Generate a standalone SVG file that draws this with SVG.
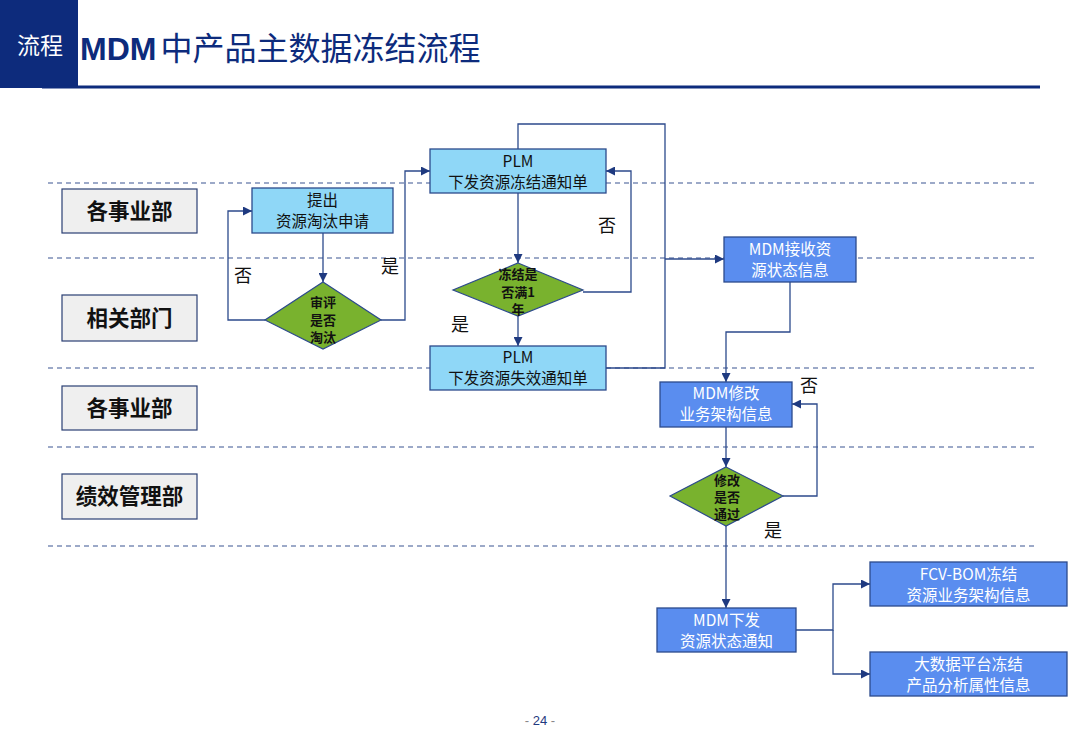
<svg xmlns="http://www.w3.org/2000/svg" width="1080" height="748" viewBox="0 0 1080 748">
<style>
.cjk{font-family:"Noto Sans CJK SC","Noto Sans",sans-serif}
.lane rect{fill:#efefef;stroke:#2a3f73;stroke-width:1.2}
.lane text{font-size:21.5px;font-weight:bold;fill:#111;text-anchor:middle}
.lb rect{fill:#8fd7f7;stroke:#2c4a8c;stroke-width:1.3}
.lb text{font-size:15.5px;fill:#111;text-anchor:middle}
.db rect{fill:#5a8def;stroke:#2c4a8c;stroke-width:1.3}
.db text{font-size:15.5px;fill:#fff;text-anchor:middle}
.dia polygon{fill:#79b22e;stroke:#2c4a8c;stroke-width:1.2}
.dia text{font-size:13px;font-weight:bold;fill:#111;text-anchor:middle}
.dash{stroke:#3b5592;stroke-width:1.2;stroke-dasharray:5 4}
.conn path{fill:none;stroke:#2c4a8c;stroke-width:1.3}
.yn{font-size:18px;fill:#111;text-anchor:middle}
</style>
<defs>
<marker id="ah" viewBox="0 0 10 10" refX="10" refY="5" markerWidth="9" markerHeight="9" markerUnits="userSpaceOnUse" orient="auto">
<path d="M0,0 L10,5 L0,10 z" fill="#1f3a80"/>
</marker>
</defs>
<rect width="1080" height="748" fill="#fff"/>
<g id="header">
<rect x="0" y="0" width="78" height="88" fill="#0d2b7c"/>
<line x1="42" y1="87" x2="1040" y2="87" stroke="#0d2b7c" stroke-width="3"/>
<text x="40" y="54" class="cjk" font-size="23" fill="#fff" text-anchor="middle">流程</text>
<text x="80" y="60" class="cjk" font-size="32" fill="#0d2b7c"><tspan font-weight="bold" font-family="Liberation Sans, Arial, sans-serif">MDM</tspan><tspan dx="4">中产品主数据冻结流程</tspan></text>
</g>
<g id="lanes-dashes">
<line class="dash" x1="48" y1="183" x2="1035" y2="183"/>
<line class="dash" x1="48" y1="258" x2="1035" y2="258"/>
<line class="dash" x1="48" y1="368" x2="1035" y2="368"/>
<line class="dash" x1="48" y1="447" x2="1035" y2="447"/>
<line class="dash" x1="48" y1="546" x2="1035" y2="546"/>
</g>
<g id="lane1" class="lane cjk"><rect x="62" y="189" width="135" height="44"/><text x="129.5" y="219">各事业部</text></g>
<g id="lane2" class="lane cjk"><rect x="62" y="295" width="135" height="46"/><text x="129.5" y="326">相关部门</text></g>
<g id="lane3" class="lane cjk"><rect x="62" y="386" width="135" height="44"/><text x="129.5" y="416">各事业部</text></g>
<g id="lane4" class="lane cjk"><rect x="62" y="474" width="135" height="45"/><text x="129.5" y="504">绩效管理部</text></g>

<g id="connectors" class="conn">
<path d="M323,233 V282" marker-end="url(#ah)"/>
<path d="M265,320 H228 V211 H252" marker-end="url(#ah)"/>
<path d="M381,320 H405 V171 H430" marker-end="url(#ah)"/>
<path d="M518,193 V263" marker-end="url(#ah)"/>
<path d="M583,292 H631 V171 H606" marker-end="url(#ah)"/>
<path d="M518,316 V346" marker-end="url(#ah)"/>
<path d="M606,368 H665 V124 H518 V149"/>
<path d="M665,259 H724" marker-end="url(#ah)"/>
<path d="M790,282 V332 H726 V382" marker-end="url(#ah)"/>
<path d="M726,427 V467" marker-end="url(#ah)"/>
<path d="M783,496 H817 V404 H792" marker-end="url(#ah)"/>
<path d="M726,526 V608" marker-end="url(#ah)"/>
<path d="M796,630 H833 V584 H870" marker-end="url(#ah)"/>
<path d="M833,630 V674 H870" marker-end="url(#ah)"/>
</g>
<g id="labels" class="cjk">
<text class="yn" x="243" y="282">否</text>
<text class="yn" x="390" y="273">是</text>
<text class="yn" x="607" y="232">否</text>
<text class="yn" x="460" y="331">是</text>
<text class="yn" x="809" y="392">否</text>
<text class="yn" x="773" y="537">是</text>
</g>

<g id="n-apply" class="lb cjk"><rect x="252" y="188" width="141" height="45"/><text x="322.5" y="205.5">提出</text><text x="322.5" y="226.5">资源淘汰申请</text></g>
<g id="n-review" class="dia cjk"><polygon points="323,282 381,320 323,349 265,320"/><text x="323" y="307">审评</text><text x="323" y="324.5">是否</text><text x="323" y="342">淘汰</text></g>
<g id="n-plm-freeze" class="lb cjk"><rect x="430" y="149" width="176" height="44"/><text x="518" y="167">PLM</text><text x="518" y="188">下发资源冻结通知单</text></g>
<g id="n-year" class="dia cjk"><polygon points="518,263 583,290 518,316 453,290"/><text x="518" y="279">冻结是</text><text x="518" y="296.5">否满1</text><text x="518" y="314">年</text></g>
<g id="n-plm-invalid" class="lb cjk"><rect x="430" y="346" width="176" height="44"/><text x="518" y="362.5">PLM</text><text x="518" y="384">下发资源失效通知单</text></g>
<g id="n-mdm-recv" class="db cjk"><rect x="724" y="237" width="132" height="45"/><text x="790" y="254.5">MDM接收资</text><text x="790" y="275.5">源状态信息</text></g>
<g id="n-mdm-mod" class="db cjk"><rect x="660" y="382" width="132" height="45"/><text x="726" y="398.5">MDM修改</text><text x="726" y="419.5">业务架构信息</text></g>
<g id="n-pass" class="dia cjk"><polygon points="726,467 783,496 726,526 670,496"/><text x="727" y="484.5">修改</text><text x="727" y="501.5">是否</text><text x="727" y="518.5">通过</text></g>
<g id="n-mdm-issue" class="db cjk"><rect x="657" y="608" width="139" height="44"/><text x="726.5" y="625.5">MDM下发</text><text x="726.5" y="646.5">资源状态通知</text></g>
<g id="n-fcv" class="db cjk"><rect x="870" y="562" width="197" height="44"/><text x="968.5" y="579.5">FCV-BOM冻结</text><text x="968.5" y="600.5">资源业务架构信息</text></g>
<g id="n-bigdata" class="db cjk"><rect x="870" y="652" width="197" height="44"/><text x="968.5" y="670">大数据平台冻结</text><text x="968.5" y="691">产品分析属性信息</text></g>

<g id="footer"><text x="540" y="725" font-family="Liberation Sans, Arial, sans-serif" font-size="13" text-anchor="middle" fill="#888">- <tspan fill="#1f3a80">24</tspan> -</text></g>
</svg>
